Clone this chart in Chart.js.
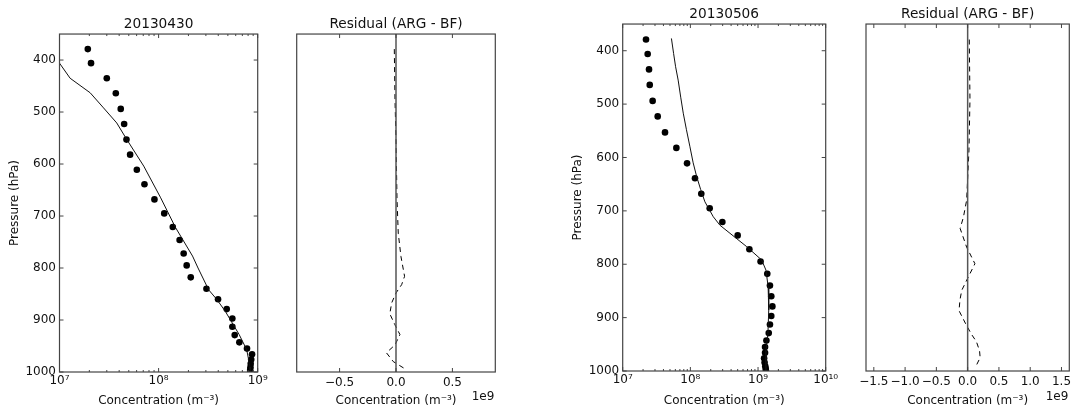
<!DOCTYPE html>
<html><head><meta charset="utf-8">
<script src="https://cdn.jsdelivr.net/npm/chart.js@4/dist/chart.umd.min.js"></script>
<style>
html,body{margin:0;padding:0;background:#fff;}
#wrap{position:relative;width:1071px;height:411px;overflow:hidden;background:#fff;}
#wrap canvas{position:absolute;left:0;top:0;}
</style></head><body>
<div id="wrap">
<canvas id="c1" width="1120" height="411"></canvas>
<canvas id="c2" width="1120" height="411"></canvas>
<canvas id="c3" width="1120" height="411"></canvas>
<canvas id="c4" width="1120" height="411"></canvas>
</div>
<script>
// ---------- data ----------
const pressureLevels = [379, 406, 435, 464, 494, 523, 553, 582, 611, 639, 668, 695, 721, 746, 772, 795, 818, 840, 860, 879, 897, 913, 929, 943, 955, 966, 976, 984, 991, 996, 1000];

// 20130430 observed (dots) and model (solid line), m^-3
const obs0430 = [1.93e7, 2.08e7, 3.0e7, 3.7e7, 4.15e7, 4.49e7, 4.74e7, 5.16e7, 6.03e7, 7.2e7, 9.08e7, 1.14e8, 1.39e8, 1.63e8, 1.79e8, 1.92e8, 2.11e8, 3.04e8, 3.98e8, 4.87e8, 5.55e8, 5.55e8, 5.86e8, 6.53e8, 7.8e8, 8.77e8, 8.6e8, 8.5e8, 8.45e8, 8.4e8, 8.4e8];
const modelP0430 = [379, 406, 435, 463, 492, 521, 553, 604, 665, 722, 777, 800, 842, 860, 883, 928, 957, 973, 990, 1000];
const model0430 = [7.9e6, 1.0e7, 1.28e7, 2.04e7, 2.78e7, 3.78e7, 4.78e7, 7.08e7, 1.05e8, 1.48e8, 2.2e8, 2.5e8, 3.2e8, 3.85e8, 4.7e8, 6.5e8, 7.74e8, 8.04e8, 8.32e8, 8.36e8];

// 20130506 observed (dots) and model (solid line), m^-3
const obs0506 = [2.21e7, 2.34e7, 2.45e7, 2.51e7, 2.77e7, 3.29e7, 4.22e7, 6.21e7, 8.93e7, 1.17e8, 1.45e8, 1.93e8, 2.97e8, 5.0e8, 7.45e8, 1.09e9, 1.37e9, 1.50e9, 1.57e9, 1.63e9, 1.57e9, 1.50e9, 1.44e9, 1.33e9, 1.27e9, 1.27e9, 1.23e9, 1.25e9, 1.28e9, 1.30e9, 1.31e9];
const modelP0506 = [377, 405, 430, 455, 487, 517, 548, 580, 610, 636, 660, 683, 711, 727, 742, 767, 792, 811, 842, 886, 930, 961, 1000];
const model0506 = [5.25e7, 5.65e7, 6.05e7, 6.6e7, 7.2e7, 7.85e7, 8.75e7, 9.86e7, 1.1e8, 1.24e8, 1.42e8, 1.64e8, 2.18e8, 2.74e8, 3.85e8, 6.79e8, 1.13e9, 1.31e9, 1.41e9, 1.44e9, 1.40e9, 1.31e9, 1.31e9];

// residuals (ARG - BF), m^-3
const resP0430 = [379, 476, 553, 668, 733, 778, 816, 832, 848, 867, 888, 909, 928, 948, 963, 980, 996];
const res0430 = [-1.5e7, -0.9e7, 0, 0.9e7, 2.0e7, 4.4e7, 7.6e7, 5.0e7, 0, -3.8e7, -5.5e7, -1.0e7, 3.5e7, -0.9e7, -8.5e7, -2.4e7, 9.5e7];
const resP0506 = [379, 492, 586, 680, 712, 733, 768, 799, 824, 849, 867, 887, 912, 931, 945, 962, 975, 994];
const res0506 = [2.6e7, 3.7e7, 2.1e7, -1.6e7, -6.8e7, -1.2e8, -1.6e7, 1.16e8, 1.0e7, -9.5e7, -1.23e8, -1.38e8, -3.0e7, 6.0e7, 1.4e8, 1.9e8, 2.0e8, 1.2e8];
const zeroLineP = [350, 1000];
const zeroLineX = [0, 0];

// ticks
const pressureTicks = [400, 500, 600, 700, 800, 900, 1000];
const logTicks1 = [1e7, 1e8, 1e9];
const logLabels1 = ['10\u2077', '10\u2078', '10\u2079'];
const logTicks3 = [1e7, 1e8, 1e9, 1e10];
const logLabels3 = ['10\u2077', '10\u2078', '10\u2079', '10\u00b9\u2070'];
const resTicks2 = [-0.5e9, 0, 0.5e9];
const resLabels2 = ['\u22120.5', '0.0', '0.5'];
const resTicks4 = [-1.5e9, -1.0e9, -0.5e9, 0, 0.5e9, 1.0e9, 1.5e9];
const resLabels4 = ['\u22121.5', '\u22121.0', '\u22120.5', '0.0', '0.5', '1.0', '1.5'];

const titles = ['20130430', 'Residual (ARG - BF)', '20130506', 'Residual (ARG - BF)'];
const xTitle = 'Concentration (m\u207b\u00b3)';
const yTitle = 'Pressure (hPa)';

// ---------- helpers ----------
const FONT = 'DejaVu Sans';
const TEXT = '#111';
const FRAME = '#444';
const FS = 12;
Chart.defaults.font.family = FONT;
Chart.defaults.color = TEXT;

function pts(xs, ys) { return xs.map((x, i) => ({x: x, y: ys[i]})); }
function minorLog(minExp, maxExp) {
  const out = [];
  for (let e = minExp; e < maxExp; e++) for (let k = 2; k <= 9; k++) out.push(k * Math.pow(10, e));
  return out;
}

const frameTicks = {
  id: 'frameTicks',
  afterDatasetsDraw(chart, args, o) {
    const {ctx, chartArea: a} = chart;
    const xs = chart.scales.x, ys = chart.scales.y;
    ctx.save();
    ctx.strokeStyle = FRAME;
    ctx.lineWidth = 1;
    const seg = (x1, y1, x2, y2) => { ctx.beginPath(); ctx.moveTo(x1, y1); ctx.lineTo(x2, y2); ctx.stroke(); };
    (o.xMajor || []).forEach(v => { const p = xs.getPixelForValue(v); seg(p, a.bottom, p, a.bottom - 4); seg(p, a.top, p, a.top + 4); });
    (o.xMinor || []).forEach(v => { const p = xs.getPixelForValue(v); seg(p, a.bottom, p, a.bottom - 2); seg(p, a.top, p, a.top + 2); });
    (o.yMajor || []).forEach(v => { const p = ys.getPixelForValue(v); seg(a.left, p, a.left + 4, p); seg(a.right, p, a.right - 4, p); });
    ctx.lineWidth = 1.2;
    ctx.strokeRect(a.left, a.top, a.right - a.left, a.bottom - a.top);
    if (o.offsetText) {
      ctx.fillStyle = TEXT;
      ctx.font = FS + 'px "' + FONT + '"';
      ctx.textAlign = 'right';
      ctx.textBaseline = 'middle';
      ctx.fillText(o.offsetText, a.right - 1, 397);
    }
    ctx.restore();
  }
};

function makePanel(id, cfg) {
  const xScale = cfg.log ? {
    type: 'logarithmic', min: cfg.xMin, max: cfg.xMax
  } : {
    type: 'linear', min: cfg.xMin, max: cfg.xMax
  };
  Object.assign(xScale, {
    position: 'bottom',
    grid: {display: false, drawTicks: false},
    border: {display: false},
    afterBuildTicks: s => { s.ticks = cfg.xTicks.map(v => ({value: v})); },
    afterFit: s => { s.height = cfg.xHeight; },
    ticks: {
      autoSkip: false, maxRotation: 0, padding: cfg.log ? 1.2 : 3.5,
      font: {size: FS}, color: TEXT,
      callback: (v) => { const i = cfg.xTicks.indexOf(v); return i >= 0 ? cfg.xLabels[i] : ''; }
    },
    title: {display: true, text: xTitle, font: {size: FS}, color: TEXT, padding: {top: 0, bottom: 3.3}}
  });
  const yScale = {
    type: 'linear', min: 350, max: 1000, reverse: true, position: 'left',
    display: cfg.showY,
    grid: {display: false, drawTicks: false},
    border: {display: false},
    afterBuildTicks: s => { s.ticks = pressureTicks.map(v => ({value: v})); },
    afterFit: s => { if (cfg.showY) s.width = cfg.yWidth; },
    ticks: {autoSkip: false, padding: 3.5, font: {size: FS}, color: TEXT, callback: v => String(v)},
    title: {display: true, text: yTitle, font: {size: FS}, color: TEXT, padding: {top: cfg.yTitlePad, bottom: 0}}
  };
  return new Chart(document.getElementById(id), {
    type: 'scatter',
    data: {datasets: cfg.datasets},
    options: {
      responsive: false, animation: false, devicePixelRatio: 1,
      layout: {padding: {left: cfg.padLeft, right: 1120 - cfg.right, top: cfg.top - 17.4, bottom: 0}},
      scales: {x: xScale, y: yScale},
      plugins: {
        legend: {display: false},
        tooltip: {enabled: false},
        title: {display: true, text: cfg.title, fullSize: false, color: TEXT,
                font: {size: 13.7, weight: 'normal'}, padding: {top: 0, bottom: 1}},
        frameTicks: {xMajor: cfg.xTicks, xMinor: cfg.xMinor || [], yMajor: cfg.showY ? pressureTicks : [], offsetText: cfg.offsetText || ''}
      }
    },
    plugins: [frameTicks]
  });
}

const dotStyle = {showLine: false, pointRadius: 3.3, pointBackgroundColor: '#000', pointBorderColor: '#000', pointBorderWidth: 0};
const lineStyle = {showLine: true, pointRadius: 0, borderColor: '#111', borderWidth: 1, tension: 0, clip: 0};
const dashStyle = {showLine: true, pointRadius: 0, borderColor: '#000', borderWidth: 1, borderDash: [5, 4], tension: 0};
const zeroStyle = {showLine: true, pointRadius: 0, borderColor: '#555', borderWidth: 1.5, tension: 0};

makePanel('c1', {
  title: titles[0], log: true, xMin: 1e7, xMax: 1e9, xTicks: logTicks1, xLabels: logLabels1, xMinor: minorLog(7, 9),
  showY: true, yWidth: 59.5, yTitlePad: 8.1, padLeft: 0, right: 257.7, top: 34, xHeight: 39,
  datasets: [
    Object.assign({data: pts(model0430, modelP0430)}, lineStyle),
    Object.assign({data: pts(obs0430, pressureLevels)}, dotStyle)
  ]
});
makePanel('c2', {
  title: titles[1], log: false, xMin: -0.88e9, xMax: 0.88e9, xTicks: resTicks2, xLabels: resLabels2,
  showY: false, yTitlePad: 0, padLeft: 296.7, right: 495.3, top: 34, xHeight: 39, offsetText: '1e9',
  datasets: [
    Object.assign({data: pts(zeroLineX, zeroLineP)}, zeroStyle),
    Object.assign({data: pts(res0430, resP0430)}, dashStyle)
  ]
});
makePanel('c3', {
  title: titles[2], log: true, xMin: 1e7, xMax: 1e10, xTicks: logTicks3, xLabels: logLabels3, xMinor: minorLog(7, 10),
  showY: true, yWidth: 62.7, yTitlePad: 10.5, padLeft: 560, right: 825.7, top: 24, xHeight: 40,
  datasets: [
    Object.assign({data: pts(model0506, modelP0506)}, lineStyle),
    Object.assign({data: pts(obs0506, pressureLevels)}, dotStyle)
  ]
});
makePanel('c4', {
  title: titles[3], log: false, xMin: -1.625e9, xMax: 1.625e9, xTicks: resTicks4, xLabels: resLabels4,
  showY: false, yTitlePad: 0, padLeft: 866, right: 1069.3, top: 24, xHeight: 40, offsetText: '1e9',
  datasets: [
    Object.assign({data: pts(zeroLineX, zeroLineP)}, zeroStyle),
    Object.assign({data: pts(res0506, resP0506)}, dashStyle)
  ]
});
</script>
</body></html>
